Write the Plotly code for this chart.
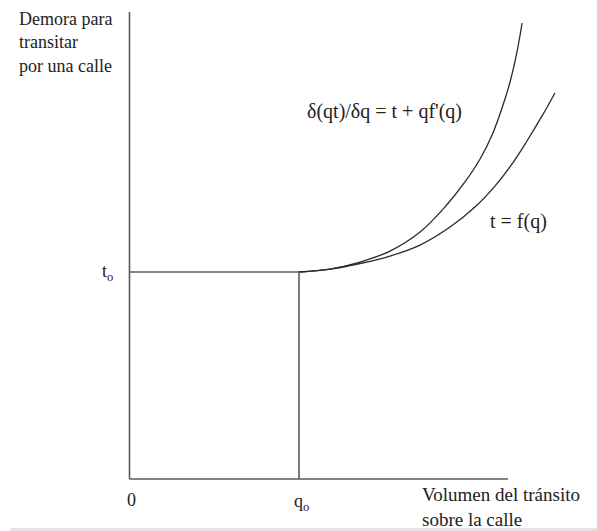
import plotly.graph_objects as go

# Data (q_o = 1, t_o = 1 units)
q_marg = [1.000, 1.183, 1.360, 1.537, 1.714, 1.861, 1.979, 2.068, 2.139, 2.198, 2.245, 2.286, 2.316]
t_marg = [1.000, 1.014, 1.048, 1.101, 1.193, 1.314, 1.435, 1.546, 1.662, 1.792, 1.918, 2.063, 2.203]
q_f = [1.000, 1.183, 1.360, 1.537, 1.714, 1.891, 2.038, 2.156, 2.257, 2.345, 2.434, 2.510]
t_f = [1.000, 1.014, 1.041, 1.077, 1.130, 1.217, 1.314, 1.415, 1.522, 1.633, 1.754, 1.865]
q_o = 1.0
t_o = 1.0
q_axis_max = 2.233
t_axis_max = 2.256

W, H = 597, 531
FONT = "Liberation Serif, Times New Roman, serif"

def px(x):
    return x / W

def py(y):
    return 1 - y / H

fig = go.Figure()
fig.add_trace(go.Scatter(x=q_marg, y=t_marg, mode="lines", line=dict(color="#2a2a2a", width=1.3, shape="spline", smoothing=1.0), hoverinfo="skip"))
fig.add_trace(go.Scatter(x=q_f, y=t_f, mode="lines", line=dict(color="#2a2a2a", width=1.3, shape="spline", smoothing=1.0), hoverinfo="skip"))

axis_col = "#5a5a5a"
shapes = [
    dict(type="line", x0=0, y0=0, x1=0, y1=t_axis_max, line=dict(color=axis_col, width=1.6)),
    dict(type="line", x0=0, y0=0, x1=q_axis_max, y1=0, line=dict(color=axis_col, width=1.6)),
    dict(type="line", x0=0, y0=t_o, x1=q_o, y1=t_o, line=dict(color=axis_col, width=1.6)),
    dict(type="line", x0=q_o, y0=0, x1=q_o, y1=t_o, line=dict(color=axis_col, width=1.6)),
    dict(type="rect", xref="paper", yref="paper", x0=px(10), x1=1, y0=0, y1=py(528), line=dict(width=0), fillcolor="#e4e4e4", layer="below"),
]

def ann(text, x, y, xanchor="left", yanchor="middle", size=19, align="left"):
    return dict(text=text, xref="paper", yref="paper", x=px(x), y=py(y), xanchor=xanchor, yanchor=yanchor,
                showarrow=False, align=align, font=dict(family=FONT, size=size, color="#222"))

annotations = [
    ann("Demora para<br>transitar<br>por una calle", 17, 7, yanchor="top", size=18),
    ann("t<sub>o</sub>", 100, 272, size=18),
    ann("0", 131, 500, xanchor="center", size=18),
    ann("q<sub>o</sub>", 301, 502, xanchor="center", size=18),
    ann("Volumen del tránsito<br>sobre la calle", 420, 482, yanchor="top"),
    ann("δ(qt)/δq = t + qf'(q)", 305, 112, size=20),
    ann("t = f(q)", 488, 222, size=20),
]

fig.update_layout(
    width=W, height=H,
    margin=dict(l=0, r=0, t=0, b=0),
    paper_bgcolor="white", plot_bgcolor="white",
    showlegend=False,
    xaxis=dict(range=[-0.764, 2.758], visible=False, fixedrange=True),
    yaxis=dict(range=[-0.2512, 2.314], visible=False, fixedrange=True),
    shapes=shapes,
    annotations=annotations,
)

fig.write_html("out.html", config={"displayModeBar": False},
               post_script="document.body.style.margin='0px';")
